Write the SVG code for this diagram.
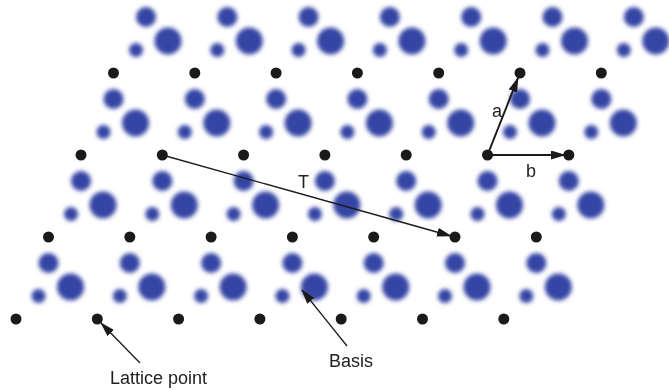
<svg xmlns="http://www.w3.org/2000/svg" xmlns:xlink="http://www.w3.org/1999/xlink" width="669" height="390" viewBox="0 0 669 390">
<style>
.dot{fill:#1a1a1a}
.blob{fill:#3444a4}
.lbl{font-family:"Liberation Sans",Arial,sans-serif;font-size:18px;fill:#222}
.con{stroke:#1a1a1a;stroke-width:1.3;fill:none}
.vec{stroke:#1a1a1a;stroke-width:2;fill:none}
</style>
<defs>
<filter id="blur" x="-50%" y="-50%" width="200%" height="200%"><feGaussianBlur stdDeviation="2.1"/></filter>
<g id="b">
<circle class="blob" cx="0" cy="26" r="10"/>
<circle class="blob" cx="-10" cy="59" r="7"/>
<circle class="blob" cx="22" cy="50" r="13.5"/>
</g>
<marker id="ah" markerUnits="userSpaceOnUse" markerWidth="15" markerHeight="10" refX="14" refY="4.5" orient="auto"><path d="M0,0 L15,4.5 L0,9 z" fill="#1a1a1a"/></marker>
</defs>
<g id="basis" filter="url(#blur)">
<use xlink:href="#b" x="146" y="-9"/><use xlink:href="#b" x="227.3" y="-9"/><use xlink:href="#b" x="308.6" y="-9"/><use xlink:href="#b" x="389.9" y="-9"/><use xlink:href="#b" x="471.2" y="-9"/><use xlink:href="#b" x="552.5" y="-9"/><use xlink:href="#b" x="633.8" y="-9"/>
<use xlink:href="#b" x="113.5" y="73"/><use xlink:href="#b" x="194.8" y="73"/><use xlink:href="#b" x="276.1" y="73"/><use xlink:href="#b" x="357.4" y="73"/><use xlink:href="#b" x="438.7" y="73"/><use xlink:href="#b" x="520" y="73"/><use xlink:href="#b" x="601.3" y="73"/>
<use xlink:href="#b" x="81" y="155"/><use xlink:href="#b" x="162.3" y="155"/><use xlink:href="#b" x="243.6" y="155"/><use xlink:href="#b" x="324.9" y="155"/><use xlink:href="#b" x="406.2" y="155"/><use xlink:href="#b" x="487.5" y="155"/><use xlink:href="#b" x="568.8" y="155"/>
<use xlink:href="#b" x="48.5" y="237"/><use xlink:href="#b" x="129.8" y="237"/><use xlink:href="#b" x="211.1" y="237"/><use xlink:href="#b" x="292.4" y="237"/><use xlink:href="#b" x="373.7" y="237"/><use xlink:href="#b" x="455" y="237"/><use xlink:href="#b" x="536.3" y="237"/>
</g>
<g id="lattice-points">
<circle class="dot" cx="113.5" cy="73" r="5.5"/><circle class="dot" cx="194.8" cy="73" r="5.5"/><circle class="dot" cx="276.1" cy="73" r="5.5"/><circle class="dot" cx="357.4" cy="73" r="5.5"/><circle class="dot" cx="438.7" cy="73" r="5.5"/><circle class="dot" cx="520" cy="73" r="5.5"/><circle class="dot" cx="601.3" cy="73" r="5.5"/>
<circle class="dot" cx="81" cy="155" r="5.5"/><circle class="dot" cx="162.3" cy="155" r="5.5"/><circle class="dot" cx="243.6" cy="155" r="5.5"/><circle class="dot" cx="324.9" cy="155" r="5.5"/><circle class="dot" cx="406.2" cy="155" r="5.5"/><circle class="dot" cx="487.5" cy="155" r="5.5"/><circle class="dot" cx="568.8" cy="155" r="5.5"/>
<circle class="dot" cx="48.5" cy="237" r="5.5"/><circle class="dot" cx="129.8" cy="237" r="5.5"/><circle class="dot" cx="211.1" cy="237" r="5.5"/><circle class="dot" cx="292.4" cy="237" r="5.5"/><circle class="dot" cx="373.7" cy="237" r="5.5"/><circle class="dot" cx="455" cy="237" r="5.5"/><circle class="dot" cx="536.3" cy="237" r="5.5"/>
<circle class="dot" cx="16" cy="319" r="5.5"/><circle class="dot" cx="97.3" cy="319" r="5.5"/><circle class="dot" cx="178.6" cy="319" r="5.5"/><circle class="dot" cx="259.9" cy="319" r="5.5"/><circle class="dot" cx="341.2" cy="319" r="5.5"/><circle class="dot" cx="422.5" cy="319" r="5.5"/><circle class="dot" cx="503.8" cy="319" r="5.5"/>
</g>
<g id="connectors">
<line class="con" x1="162.3" y1="155" x2="451" y2="236" marker-end="url(#ah)"/>
<line class="vec" x1="487.5" y1="155" x2="518" y2="78" marker-end="url(#ah)"/>
<line class="vec" x1="487.5" y1="155" x2="565" y2="155" marker-end="url(#ah)"/>
<line class="con" x1="140" y1="363" x2="101" y2="323" marker-end="url(#ah)"/>
<line class="con" x1="347" y1="346" x2="302" y2="290" marker-end="url(#ah)"/>
</g>
<g id="labels">
<text class="lbl" x="298" y="188">T</text>
<text class="lbl" x="492" y="117">a</text>
<text class="lbl" x="526" y="177">b</text>
<text class="lbl" x="110" y="384">Lattice point</text>
<text class="lbl" x="329" y="367">Basis</text>
</g>
</svg>
